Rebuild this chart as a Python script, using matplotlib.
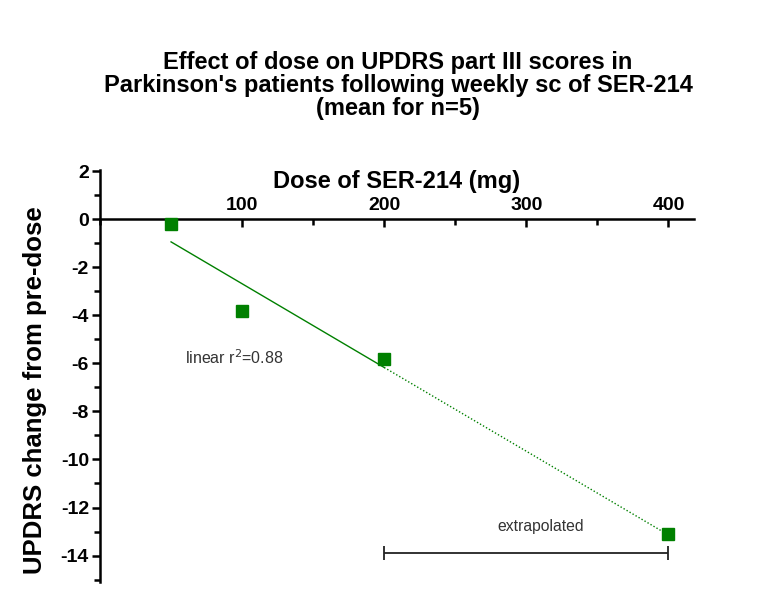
import numpy as np
import matplotlib
matplotlib.use("Agg")
import matplotlib.pyplot as plt
from matplotlib.ticker import MultipleLocator

plt.rcParams['font.family'] = ['Liberation Sans', 'DejaVu Sans']
plt.rcParams['axes.unicode_minus'] = False

# dose (mg) and mean UPDRS III change from pre-dose
dose = [50, 100, 200, 400]
updrs_change = [-0.2, -3.8, -5.8, -13.1]

# linear fit uses the three measured doses, then is extrapolated to 400 mg
fit_dose = dose[:3]
fit_change = updrs_change[:3]
fit_label = "linear r$^2$=0.88"
extrap_label = "extrapolated"

title = ("Effect of dose on UPDRS part III scores in\n"
         "Parkinson's patients following weekly sc of SER-214\n"
         "(mean for n=5)")

green = "#008000"

fig = plt.figure(figsize=(7.64, 5.96), dpi=100)
ax = fig.add_axes([0.1309, 0.0235, 0.7775, 0.6913])

# regression line
slope, intercept = np.polyfit(fit_dose, fit_change, 1)
x_solid = np.array([fit_dose[0], fit_dose[-1]])
x_dot = np.array([fit_dose[-1], dose[-1]])
ax.plot(x_solid, slope * x_solid + intercept, color=green, lw=1.0)
ax.plot(x_dot, slope * x_dot + intercept, color=green, lw=1.0, ls=(0, (1, 1.5)))

ax.plot(dose, updrs_change, ls="none", marker="s", ms=8, color=green, zorder=3)

ax.text(60, -5.75, fit_label, fontsize=11.5, color="#333333", va="center")

# bracket for the extrapolated range
ax.errorbar([300], [-13.9], xerr=[[100], [100]], color="#222222",
            lw=1.3, capsize=5, capthick=1.3)
ax.text(310, -12.8, extrap_label, fontsize=11.3, color="#333333", ha="center", va="center")

ax.set_xlim(0, 418)
ax.set_ylim(-15.1, 2.05)

# x axis sits at y = 0 with labels above it
ax.spines['bottom'].set_visible(False)
ax.spines['right'].set_visible(False)
ax.spines['top'].set_position(('data', 0))
ax.spines['top'].set_linewidth(1.8)
ax.spines['left'].set_linewidth(1.8)
ax.xaxis.set_ticks_position('top')
ax.xaxis.set_label_position('top')
ax.xaxis.set_minor_locator(MultipleLocator(50))
ax.set_xticks([100, 200, 300, 400])
ax.tick_params(axis='x', which='major', direction='in', length=6, width=1.8, pad=4)
ax.tick_params(axis='x', which='minor', direction='in', length=4, width=1.8)

ax.yaxis.set_major_locator(MultipleLocator(2))
ax.yaxis.set_minor_locator(MultipleLocator(1))
ax.tick_params(axis='y', which='major', length=6, width=1.8, pad=2)
ax.tick_params(axis='y', which='minor', length=4, width=1.8)

for lab in ax.get_xticklabels() + ax.get_yticklabels():
    lab.set_fontsize(14)
    lab.set_fontweight('bold')

ax.set_xlabel("Dose of SER-214 (mg)", fontsize=17, fontweight='bold', labelpad=6)
ax.set_ylabel("UPDRS change from pre-dose", fontsize=18.5, fontweight='bold')
ax.yaxis.set_label_coords(-0.09, 0.466)

fig.text(0.521, 0.857, title, ha='center', va='center', fontsize=17,
         fontweight='bold', linespacing=1.0)

fig.savefig("out.png", dpi=100)
